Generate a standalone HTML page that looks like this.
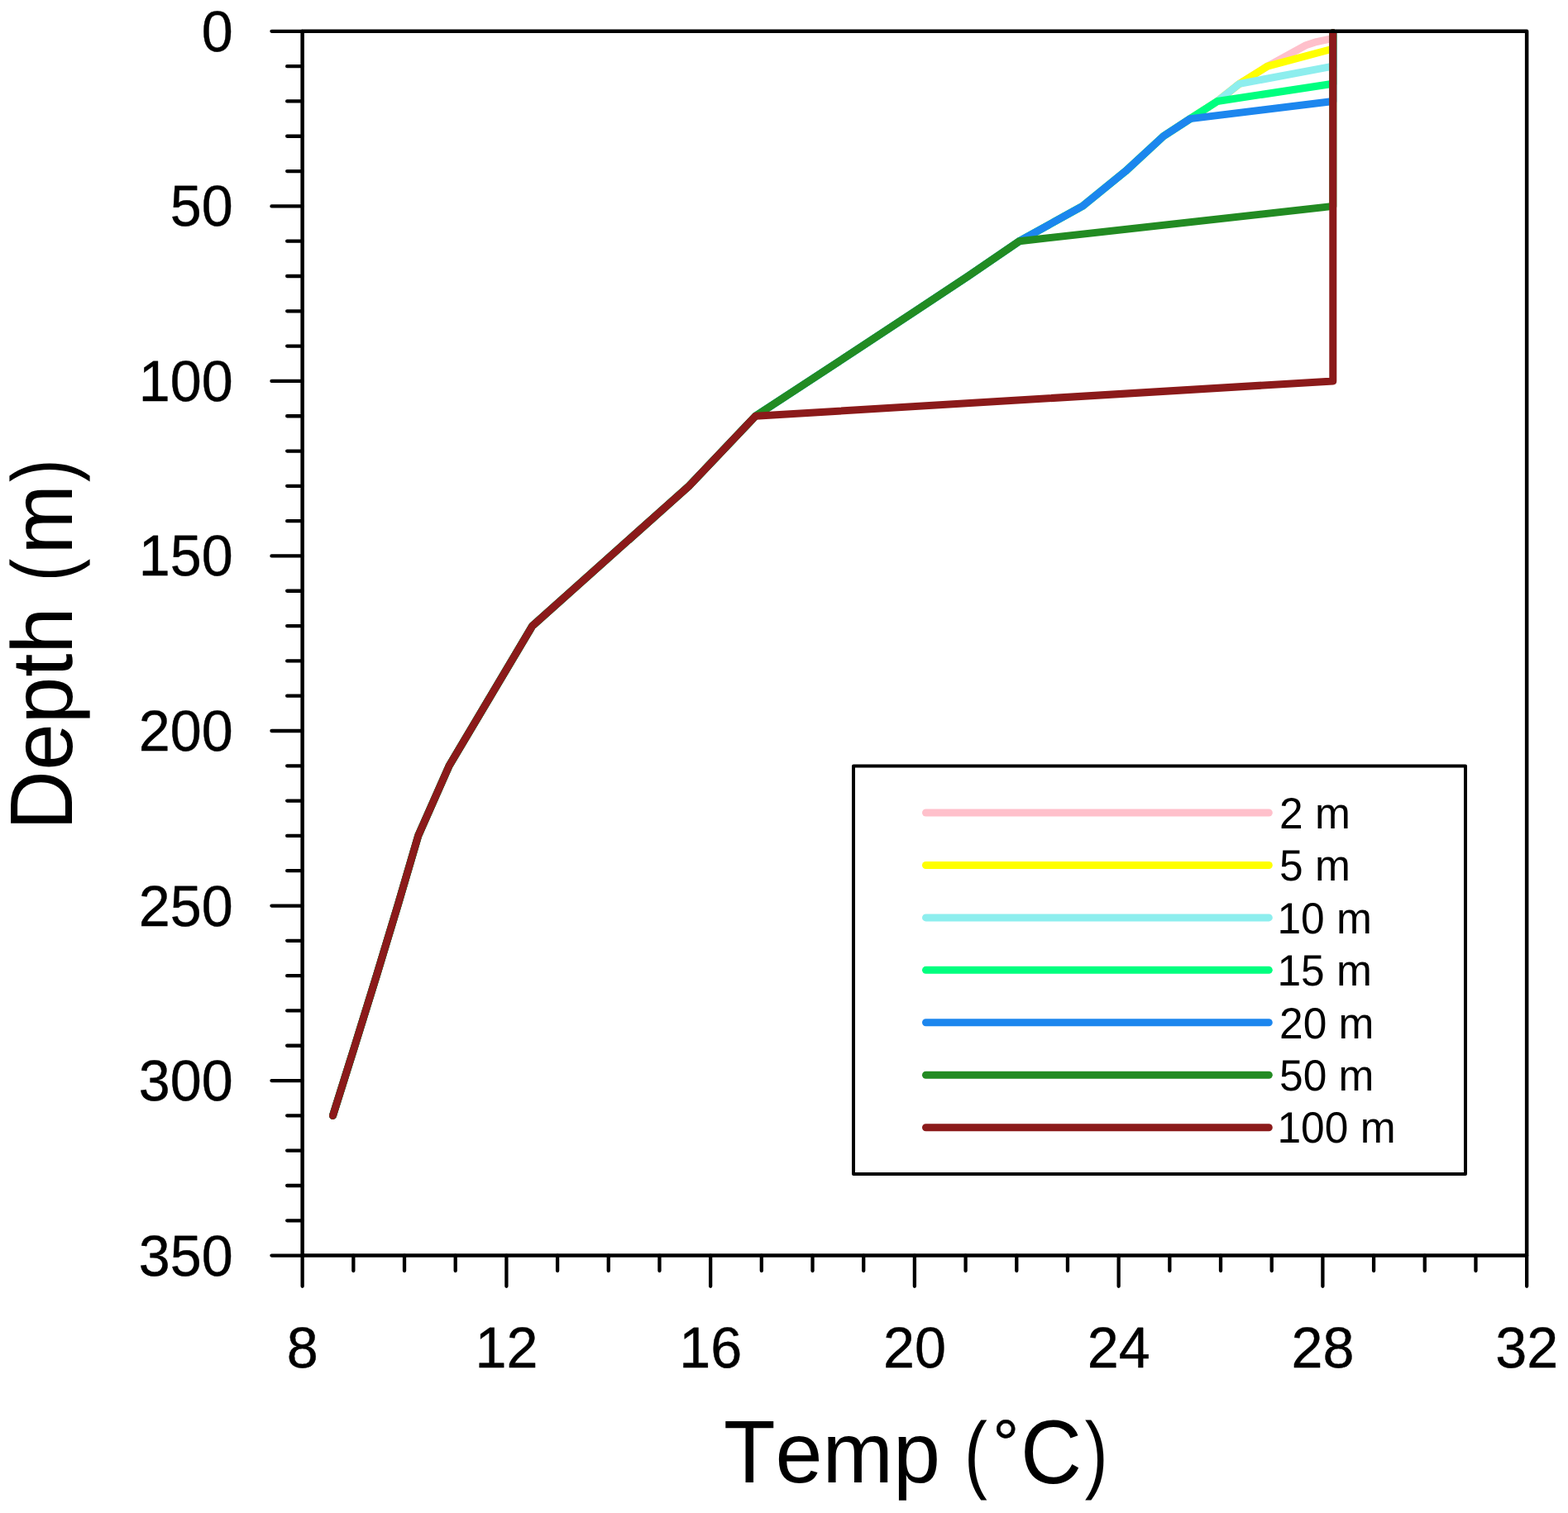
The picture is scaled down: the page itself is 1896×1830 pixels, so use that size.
<!DOCTYPE html>
<html lang="en"><head><meta charset="utf-8"><title>Temp (°C) vs Depth (m)</title>
<style>
html,body{margin:0;padding:0;background:#fff;}
body{width:1896px;height:1830px;overflow:hidden;}
svg{display:block;}
text{font-family:"Liberation Sans",sans-serif;fill:#000;font-kerning:none;font-variant-ligatures:none;text-rendering:geometricPrecision;}
.tk{font-size:70px;stroke:#000;stroke-width:0.4;}
.tt{font-size:104.3px;}
.lg{font-size:53.1px;}
</style></head><body>
<svg width="1896" height="1830" viewBox="0 0 1896 1830" role="img" aria-label="Temperature profiles versus depth for mixed layer depths of 2 to 100 m">
<rect width="1896" height="1830" fill="#fff"/>
<g fill="none" stroke-width="9" stroke-linecap="round" stroke-linejoin="round">
<polyline stroke="#ffc0cb" points="1611.8,39.75 1611.8,46.31 1592,50.54 1579,54.77 1532.6,80.16 1498.75,101.31 1472,122.46 1439.2,143.62 1406.8,164.77 1361,207.08 1308.8,249.39 1232.5,291.69 1170.7,334 1106.9,376.31 1042.8,418.61 978.1,460.92 913.5,503.23 833.1,587.84 643.7,757.07 543.1,926.3 505.7,1010.91 480.9,1095.53 455.3,1180.14 429.1,1264.76 402.5,1349.37"/>
<polyline stroke="#ffff00" points="1611.8,39.75 1611.8,59 1532.6,80.16 1498.75,101.31 1472,122.46 1439.2,143.62 1406.8,164.77 1361,207.08 1308.8,249.39 1232.5,291.69 1170.7,334 1106.9,376.31 1042.8,418.61 978.1,460.92 913.5,503.23 833.1,587.84 643.7,757.07 543.1,926.3 505.7,1010.91 480.9,1095.53 455.3,1180.14 429.1,1264.76 402.5,1349.37"/>
<polyline stroke="#8deeee" points="1611.8,39.75 1611.8,80.16 1498.75,101.31 1472,122.46 1439.2,143.62 1406.8,164.77 1361,207.08 1308.8,249.39 1232.5,291.69 1170.7,334 1106.9,376.31 1042.8,418.61 978.1,460.92 913.5,503.23 833.1,587.84 643.7,757.07 543.1,926.3 505.7,1010.91 480.9,1095.53 455.3,1180.14 429.1,1264.76 402.5,1349.37"/>
<polyline stroke="#00ff7f" points="1611.8,39.75 1611.8,101.31 1472,122.46 1439.2,143.62 1406.8,164.77 1361,207.08 1308.8,249.39 1232.5,291.69 1170.7,334 1106.9,376.31 1042.8,418.61 978.1,460.92 913.5,503.23 833.1,587.84 643.7,757.07 543.1,926.3 505.7,1010.91 480.9,1095.53 455.3,1180.14 429.1,1264.76 402.5,1349.37"/>
<polyline stroke="#1c86ee" points="1611.8,39.75 1611.8,122.46 1439.2,143.62 1406.8,164.77 1361,207.08 1308.8,249.39 1232.5,291.69 1170.7,334 1106.9,376.31 1042.8,418.61 978.1,460.92 913.5,503.23 833.1,587.84 643.7,757.07 543.1,926.3 505.7,1010.91 480.9,1095.53 455.3,1180.14 429.1,1264.76 402.5,1349.37"/>
<polyline stroke="#228b22" points="1611.8,39.75 1611.8,249.39 1232.5,291.69 1170.7,334 1106.9,376.31 1042.8,418.61 978.1,460.92 913.5,503.23 833.1,587.84 643.7,757.07 543.1,926.3 505.7,1010.91 480.9,1095.53 455.3,1180.14 429.1,1264.76 402.5,1349.37"/>
<polyline stroke="#8b1a1a" points="1611.8,39.75 1611.8,460.92 913.5,503.23 833.1,587.84 643.7,757.07 543.1,926.3 505.7,1010.91 480.9,1095.53 455.3,1180.14 429.1,1264.76 402.5,1349.37"/>
</g>
<g fill="none" stroke="#000" stroke-linecap="round" stroke-linejoin="round">
<rect x="365.65" y="37.85" width="1480.5" height="1480.75" stroke-width="4.5"/>
<path stroke-width="4.3" d="M365.65 37.85H328.45M365.65 80.16H347.15M365.65 122.46H347.15M365.65 164.77H347.15M365.65 207.08H347.15M365.65 249.39H328.45M365.65 291.69H347.15M365.65 334H347.15M365.65 376.31H347.15M365.65 418.61H347.15M365.65 460.92H328.45M365.65 503.23H347.15M365.65 545.54H347.15M365.65 587.84H347.15M365.65 630.15H347.15M365.65 672.46H328.45M365.65 714.76H347.15M365.65 757.07H347.15M365.65 799.38H347.15M365.65 841.69H347.15M365.65 883.99H328.45M365.65 926.3H347.15M365.65 968.61H347.15M365.65 1010.91H347.15M365.65 1053.22H347.15M365.65 1095.53H328.45M365.65 1137.84H347.15M365.65 1180.14H347.15M365.65 1222.45H347.15M365.65 1264.76H347.15M365.65 1307.06H328.45M365.65 1349.37H347.15M365.65 1391.68H347.15M365.65 1433.99H347.15M365.65 1476.29H347.15M365.65 1518.6H328.45M365.65 1518.6V1555.8M427.34 1518.6V1537.1M489.02 1518.6V1537.1M550.71 1518.6V1537.1M612.4 1518.6V1555.8M674.09 1518.6V1537.1M735.77 1518.6V1537.1M797.46 1518.6V1537.1M859.15 1518.6V1555.8M920.84 1518.6V1537.1M982.52 1518.6V1537.1M1044.21 1518.6V1537.1M1105.9 1518.6V1555.8M1167.59 1518.6V1537.1M1229.28 1518.6V1537.1M1290.96 1518.6V1537.1M1352.65 1518.6V1555.8M1414.34 1518.6V1537.1M1476.03 1518.6V1537.1M1537.71 1518.6V1537.1M1599.4 1518.6V1555.8M1661.09 1518.6V1537.1M1722.78 1518.6V1537.1M1784.46 1518.6V1537.1M1846.15 1518.6V1555.8"/>
</g>
<g class="tk" text-anchor="end">
<text transform="translate(281.8 61.85) scale(0.976 1)">0</text>
<text transform="translate(281.8 273.39) scale(0.976 1)">50</text>
<text transform="translate(281.8 484.92) scale(0.976 1)">100</text>
<text transform="translate(281.8 696.46) scale(0.976 1)">150</text>
<text transform="translate(281.8 907.99) scale(0.976 1)">200</text>
<text transform="translate(281.8 1119.53) scale(0.976 1)">250</text>
<text transform="translate(281.8 1331.06) scale(0.976 1)">300</text>
<text transform="translate(281.8 1542.6) scale(0.976 1)">350</text>
</g>
<g class="tk" text-anchor="middle">
<text transform="translate(365.65 1653.6) scale(0.976 1)">8</text>
<text transform="translate(612.4 1653.6) scale(0.976 1)">12</text>
<text transform="translate(859.15 1653.6) scale(0.976 1)">16</text>
<text transform="translate(1105.9 1653.6) scale(0.976 1)">20</text>
<text transform="translate(1352.65 1653.6) scale(0.976 1)">24</text>
<text transform="translate(1599.4 1653.6) scale(0.976 1)">28</text>
<text transform="translate(1846.15 1653.6) scale(0.976 1)">32</text>
</g>
<text class="tt" transform="translate(874.9 1793) scale(0.983 1)"><tspan font-size="107.43" textLength="63.71" lengthAdjust="spacingAndGlyphs">T</tspan>emp <tspan x="296.13" textLength="28.3" lengthAdjust="spacingAndGlyphs">(</tspan><tspan x="331.23" y="-20" font-size="80" stroke="#000" stroke-width="0.5">°</tspan><tspan x="365.31" y="0.9" font-size="109.41" textLength="75.32" lengthAdjust="spacingAndGlyphs">C</tspan><tspan x="444.46" y="0" textLength="28.3" lengthAdjust="spacingAndGlyphs">)</tspan></text>
<text class="tt" transform="translate(86.8 1004.9) rotate(-90) scale(0.973 1)"><tspan x="1.1" font-size="107.43" textLength="73.44" lengthAdjust="spacingAndGlyphs">D</tspan><tspan x="75.23">epth </tspan><tspan x="310.07" textLength="28.3" lengthAdjust="spacingAndGlyphs">(</tspan><tspan x="343.58">m</tspan><tspan x="433.61" textLength="28.3" lengthAdjust="spacingAndGlyphs">)</tspan></text>
<rect x="1032" y="926.5" width="740" height="493.6" fill="#fff" stroke="#000" stroke-width="4" stroke-linejoin="round"/>
<g fill="none" stroke-width="9" stroke-linecap="round">
<line stroke="#ffc0cb" x1="1119.5" y1="983" x2="1534.3" y2="983"/>
<line stroke="#ffff00" x1="1119.5" y1="1046.45" x2="1534.3" y2="1046.45"/>
<line stroke="#8deeee" x1="1119.5" y1="1109.9" x2="1534.3" y2="1109.9"/>
<line stroke="#00ff7f" x1="1119.5" y1="1173.35" x2="1534.3" y2="1173.35"/>
<line stroke="#1c86ee" x1="1119.5" y1="1236.8" x2="1534.3" y2="1236.8"/>
<line stroke="#228b22" x1="1119.5" y1="1300.25" x2="1534.3" y2="1300.25"/>
<line stroke="#8b1a1a" x1="1119.5" y1="1363.7" x2="1534.3" y2="1363.7"/>
</g>
<g class="lg">
<text transform="translate(1547 1001.7) scale(0.97 1)">2 m</text>
<text transform="translate(1547 1065.15) scale(0.97 1)">5 m</text>
<text transform="translate(1544.4 1128.6) scale(0.97 1)">10 m</text>
<text transform="translate(1544.4 1192.05) scale(0.97 1)">15 m</text>
<text transform="translate(1547 1255.5) scale(0.97 1)">20 m</text>
<text transform="translate(1547 1318.95) scale(0.97 1)">50 m</text>
<text transform="translate(1544.4 1382.4) scale(0.97 1)">100 m</text>
</g>
</svg>
</body></html>
